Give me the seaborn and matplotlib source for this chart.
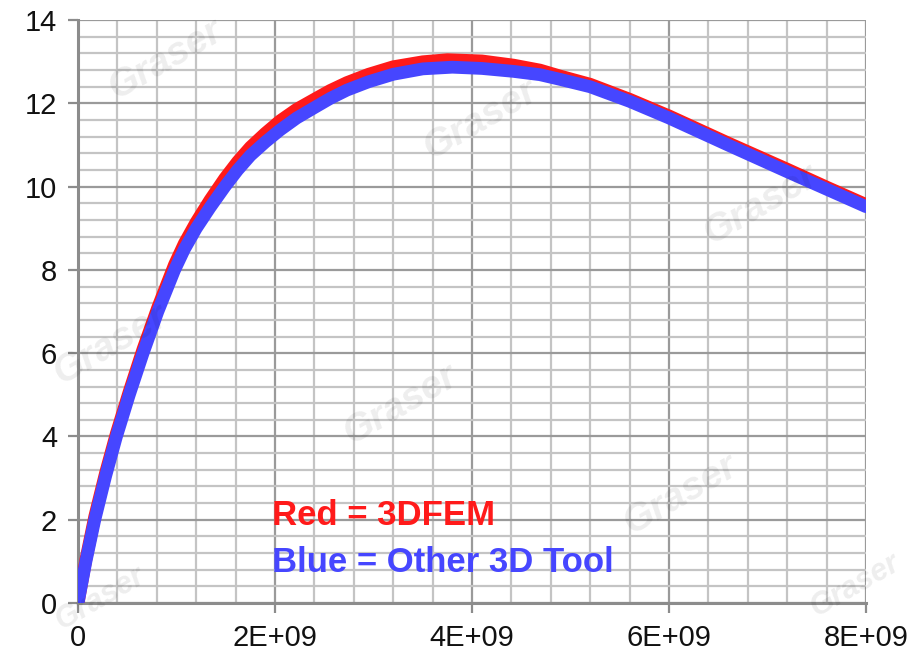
import matplotlib
matplotlib.use("Agg")
import matplotlib.pyplot as plt
import seaborn as sns
import pandas as pd
import numpy as np
from matplotlib.ticker import MultipleLocator

# ---- data (x in units of 1E9) ----
red_x = [0.0, 0.04, 0.08, 0.17, 0.28, 0.39, 0.52, 0.66, 0.81, 0.98, 1.08, 1.2, 1.34, 1.49, 1.62,
         1.75, 1.9, 2.05, 2.22, 2.4, 2.56, 2.73, 2.95, 3.2, 3.5, 3.75, 4.1, 4.42, 4.69, 4.89,
         5.2, 5.6, 6.0, 6.6, 7.2, 7.6, 8.0]
red_y = [0.0, 0.52, 1.05, 2.08, 3.13, 4.08, 5.08, 6.1, 7.1, 8.13, 8.64, 9.15, 9.68, 10.2, 10.6,
         10.95, 11.28, 11.58, 11.86, 12.1, 12.31, 12.5, 12.7, 12.88, 13.0, 13.05, 13.02, 12.92, 12.8, 12.66,
         12.46, 12.1, 11.7, 11.05, 10.42, 9.99, 9.57]
blue_x = [0.0, 0.04, 0.08, 0.17, 0.28, 0.39, 0.52, 0.66, 0.81, 0.98, 1.08, 1.2, 1.34, 1.49, 1.62,
          1.75, 1.9, 2.05, 2.22, 2.4, 2.56, 2.73, 2.95, 3.2, 3.5, 3.8, 4.1, 4.42, 4.69, 4.89,
          5.2, 5.6, 6.0, 6.6, 7.2, 7.6, 8.0]
blue_y = [0.0, 0.5, 1.0, 2.0, 3.05, 4.0, 5.0, 6.0, 7.0, 8.0, 8.5, 9.0, 9.5, 10.0, 10.4,
          10.75, 11.07, 11.36, 11.65, 11.9, 12.12, 12.32, 12.52, 12.7, 12.83, 12.87, 12.84, 12.77, 12.69, 12.58,
          12.40, 12.05, 11.65, 11.0, 10.36, 9.94, 9.52]
series_names = ["3DFEM", "Other 3D Tool"]
x_ticks = [0, 2e9, 4e9, 6e9, 8e9]
x_tick_labels = ["0", "2E+09", "4E+09", "6E+09", "8E+09"]
y_ticks = [0, 2, 4, 6, 8, 10, 12, 14]
legend_lines = ["Red = 3DFEM", "Blue = Other 3D Tool"]
watermark = "Graser"

df = pd.concat([
    pd.DataFrame({"x": np.array(red_x) * 1e9, "y": red_y, "series": series_names[0]}),
    pd.DataFrame({"x": np.array(blue_x) * 1e9, "y": blue_y, "series": series_names[1]}),
])

sns.set_style("white")
plt.rcParams["font.family"] = ["Liberation Sans", "DejaVu Sans"]

fig = plt.figure(figsize=(9.16, 6.5), dpi=100)
ax = fig.add_axes([0.0852, 0.0723, 0.8602, 0.8967])

RED = "#ff1a1a"
BLUE = "#4646ff"

sns.lineplot(data=df, x="x", y="y", hue="series", palette=[RED, BLUE],
             linewidth=9.2, ax=ax, legend=False, sort=False, zorder=3,
             solid_joinstyle="round", solid_capstyle="round")

ax.set_xlim(0, 8e9)
ax.set_ylim(0, 14)
ax.set_xticks(x_ticks)
ax.set_xticklabels(x_tick_labels)
ax.set_yticks(y_ticks)
ax.xaxis.set_minor_locator(MultipleLocator(0.4e9))
ax.yaxis.set_minor_locator(MultipleLocator(0.4))

ax.grid(which="minor", color="#c4c4c4", linewidth=1.6, zorder=0)
ax.grid(which="major", color="#9a9a9a", linewidth=1.6, zorder=1)
ax.set_axisbelow(True)

for s in ["top", "right"]:
    ax.spines[s].set_visible(False)
for s in ["left", "bottom"]:
    ax.spines[s].set_color("#8c8c8c")
    ax.spines[s].set_linewidth(2.2)

ax.tick_params(which="major", direction="out", length=7, width=1.6, color="#8c8c8c",
               labelsize=21, labelcolor="#111111", pad=8, left=True, bottom=True)
ax.tick_params(which="minor", length=0)
ax.set_xlabel("")
ax.set_ylabel("")

# watermarks
wm = [(165, 60), (480, 120), (760, 205), (110, 345), (400, 405), (680, 495), (100, 598), (855, 585)]
wsize = [28, 28, 28, 28, 28, 28, 22, 22]
for (px, py), fs in zip(wm, wsize):
    fig.text(px / 916, 1 - py / 650, watermark, fontsize=fs, fontweight="bold", fontstyle="italic",
             color="#000000", alpha=0.07, rotation=30, ha="center", va="center", zorder=0)

ax.text(0.2465, 0.1345, legend_lines[0], transform=ax.transAxes, color=RED,
        fontsize=25, fontweight="bold", ha="left", va="baseline", zorder=5)
ax.text(0.2465, 0.0535, legend_lines[1], transform=ax.transAxes, color=BLUE,
        fontsize=25, fontweight="bold", ha="left", va="baseline", zorder=5)

fig.savefig("out.png", dpi=100)
